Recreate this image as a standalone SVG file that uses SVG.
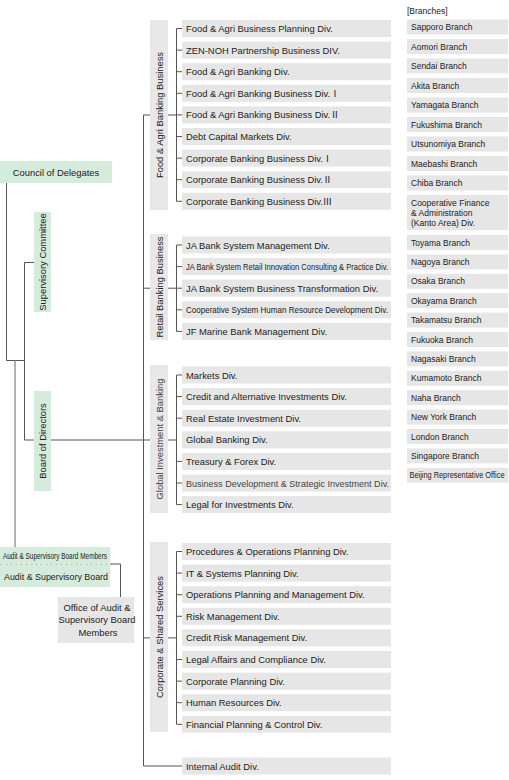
<svg xmlns="http://www.w3.org/2000/svg" width="509" height="780" viewBox="0 0 509 780">
<style>
.g{fill:#d5ecdc}
.d{fill:#e6e6e6}
.b{fill:#e8e8e8}
.t{font-family:"Liberation Sans","Noto Sans CJK JP",sans-serif;font-size:9.4px;fill:#222}
.s{font-size:8.5px}
.m{text-anchor:middle}
.ln{stroke:#555;stroke-width:1;fill:none}
.gl{stroke:#999;stroke-width:1.5;fill:none}
.dl{stroke:#555;stroke-width:1;fill:none;stroke-dasharray:3 2}
</style>
<rect width="509" height="780" fill="#fff"/>
<g id="connectors">
<path class="ln" d="M6.5,183 V360.5 H24.5 M24.5,262.5 H34 M24.5,262.5 V440 H150"/>
<path class="gl" d="M15,360.5 V547"/>
<path class="dl" d="M0,564 H110"/>
<path class="ln" d="M110,564 H120.5 V597"/>
<path class="ln" d="M150,115 H143.5 V766 H182 M143.5,288.2 H150 M143.5,637.9 H150"/>
<path class="ln" d="M168,115 H176.5 M182,28.5 H176.5 V201.3 H182 M176.5,50.1 H182 M176.5,71.7 H182 M176.5,93.3 H182 M176.5,114.9 H182 M176.5,136.5 H182 M176.5,158.1 H182 M176.5,179.7 H182"/>
<path class="ln" d="M168,288.2 H176.5 M182,245 H176.5 V331.4 H182 M176.5,266.6 H182 M176.5,288.2 H182 M176.5,309.8 H182"/>
<path class="ln" d="M168,440 H176.5 M182,375 H176.5 V504.6 H182 M176.5,396.6 H182 M176.5,418.2 H182 M176.5,461.4 H182 M176.5,483 H182"/>
<path class="ln" d="M168,637.9 H176.5 M182,551.5 H176.5 V724.3 H182 M176.5,573.1 H182 M176.5,594.7 H182 M176.5,616.3 H182 M176.5,659.5 H182 M176.5,681.1 H182 M176.5,702.7 H182"/>
</g>
<g id="council"><rect class="g" x="0" y="161" width="112" height="22"/><text class="t m" x="56" y="175.5">Council of Delegates</text></g>
<g id="supervisory-committee"><rect class="g" x="34" y="212" width="17" height="100"/><text class="t m" transform="translate(42.5,262) rotate(-90)" y="3.3">Supervisory Committee</text></g>
<g id="board-of-directors"><rect class="g" x="34" y="391" width="17" height="100"/><text class="t m" transform="translate(42.5,441) rotate(-90)" y="3.3">Board of Directors</text></g>
<g id="audit-members"><rect class="g" x="0" y="547" width="110" height="17"/><text class="t" x="3" y="559" font-size="7.6" textLength="104" lengthAdjust="spacingAndGlyphs">Audit &amp; Supervisory Board Members</text></g>
<g id="audit-board"><rect class="g" x="0" y="564.5" width="110" height="22.5"/><text class="t" x="4" y="579.5" font-size="9" textLength="104" lengthAdjust="spacingAndGlyphs">Audit &amp; Supervisory Board</text></g>
<g id="office-audit"><rect class="d" x="58" y="597" width="76" height="46"/>
<text class="t m" x="97" y="611" font-size="8.4">Office of Audit &amp;</text>
<text class="t m" x="97" y="623" font-size="8.4">Supervisory Board</text>
<text class="t m" x="98" y="635.5" font-size="8.4">Members</text></g>

<g id="grp-food"><rect class="b" x="150" y="20" width="18" height="190"/><text class="t m" transform="translate(159.5,115) rotate(-90)" y="3.3">Food &amp; Agri Banking Business</text></g>
<g id="grp-retail"><rect class="b" x="150" y="234" width="18" height="106"/><text class="t m" transform="translate(159.5,287) rotate(-90)" y="3.3">Retail Banking Business</text></g>
<g id="grp-global"><rect class="b" x="150" y="365" width="18" height="148"/><text class="t m" transform="translate(159.5,439) rotate(-90)" y="3.3" style="fill:#444">Global Investment &amp; Banking</text></g>
<g id="grp-corporate"><rect class="b" x="150" y="542" width="18" height="190"/><text class="t m" transform="translate(159.5,637) rotate(-90)" y="3.3">Corporate &amp; Shared Services</text></g>

<g id="food-divs">
<g id="d-food1"><rect class="d" x="182" y="20" width="209" height="17"/><text class="t" x="186" y="32">Food &amp; Agri Business Planning Div.</text></g>
<g id="d-food2"><rect class="d" x="182" y="41.6" width="209" height="17"/><text class="t" x="186" y="53.6">ZEN-NOH Partnership Business DIV.</text></g>
<g id="d-food3"><rect class="d" x="182" y="63.2" width="209" height="17"/><text class="t" x="186" y="75.2">Food &amp; Agri Banking Div.</text></g>
<g id="d-food4"><rect class="d" x="182" y="84.8" width="209" height="17"/><text class="t" x="186" y="96.8">Food &amp; Agri Banking Business Div.Ⅰ</text></g>
<g id="d-food5"><rect class="d" x="182" y="106.4" width="209" height="17"/><text class="t" x="186" y="118.4">Food &amp; Agri Banking Business Div.Ⅱ</text></g>
<g id="d-food6"><rect class="d" x="182" y="128" width="209" height="17"/><text class="t" x="186" y="140">Debt Capital Markets Div.</text></g>
<g id="d-food7"><rect class="d" x="182" y="149.6" width="209" height="17"/><text class="t" x="186" y="161.6">Corporate Banking Business Div.Ⅰ</text></g>
<g id="d-food8"><rect class="d" x="182" y="171.2" width="209" height="17"/><text class="t" x="186" y="183.2">Corporate Banking Business Div.Ⅱ</text></g>
<g id="d-food9"><rect class="d" x="182" y="192.8" width="209" height="17"/><text class="t" x="186" y="204.8">Corporate Banking Business Div.Ⅲ</text></g>
</g>
<g id="retail-divs">
<g id="d-ret1"><rect class="d" x="182" y="236.5" width="209" height="17"/><text class="t" x="186" y="248.5">JA Bank System Management Div.</text></g>
<g id="d-ret2"><rect class="d" x="182" y="258.1" width="209" height="17"/><text class="t" x="186" y="270" font-size="7.6" textLength="202" lengthAdjust="spacingAndGlyphs">JA Bank System Retail Innovation Consulting &amp; Practice Div.</text></g>
<g id="d-ret3"><rect class="d" x="182" y="279.7" width="209" height="17"/><text class="t" x="186" y="291.7">JA Bank System Business Transformation Div.</text></g>
<g id="d-ret4"><rect class="d" x="182" y="301.3" width="209" height="17"/><text class="t" x="186" y="313.2" font-size="8" textLength="202" lengthAdjust="spacingAndGlyphs">Cooperative System Human Resource Development Div.</text></g>
<g id="d-ret5"><rect class="d" x="182" y="322.9" width="209" height="17"/><text class="t" x="186" y="334.9">JF Marine Bank Management Div.</text></g>
</g>
<g id="global-divs">
<g id="d-gl1"><rect class="d" x="182" y="366.5" width="209" height="17"/><text class="t" x="186" y="378.5">Markets Div.</text></g>
<g id="d-gl2"><rect class="d" x="182" y="388.1" width="209" height="17"/><text class="t" x="186" y="400.1">Credit and Alternative Investments Div.</text></g>
<g id="d-gl3"><rect class="d" x="182" y="409.7" width="209" height="17"/><text class="t" x="186" y="421.7">Real Estate Investment Div.</text></g>
<g id="d-gl4"><rect class="d" x="182" y="431.3" width="209" height="17"/><text class="t" x="186" y="443.3">Global Banking Div.</text></g>
<g id="d-gl5"><rect class="d" x="182" y="452.9" width="209" height="17"/><text class="t" x="186" y="464.9">Treasury &amp; Forex Div.</text></g>
<g id="d-gl6"><rect class="d" x="182" y="474.5" width="209" height="17"/><text class="t" x="186" y="486.5" font-size="9" textLength="203" lengthAdjust="spacingAndGlyphs" style="fill:#444">Business Development &amp; Strategic Investment Div.</text></g>
<g id="d-gl7"><rect class="d" x="182" y="496.1" width="209" height="17"/><text class="t" x="186" y="508.1">Legal for Investments Div.</text></g>
</g>
<g id="corp-divs">
<g id="d-co1"><rect class="d" x="182" y="543" width="209" height="17"/><text class="t" x="186" y="555">Procedures &amp; Operations Planning Div.</text></g>
<g id="d-co2"><rect class="d" x="182" y="564.6" width="209" height="17"/><text class="t" x="186" y="576.6">IT &amp; Systems Planning Div.</text></g>
<g id="d-co3"><rect class="d" x="182" y="586.2" width="209" height="17"/><text class="t" x="186" y="598.2">Operations Planning and Management Div.</text></g>
<g id="d-co4"><rect class="d" x="182" y="607.8" width="209" height="17"/><text class="t" x="186" y="619.8">Risk Management Div.</text></g>
<g id="d-co5"><rect class="d" x="182" y="629.4" width="209" height="17"/><text class="t" x="186" y="641.4">Credit Risk Management Div.</text></g>
<g id="d-co6"><rect class="d" x="182" y="651" width="209" height="17"/><text class="t" x="186" y="663">Legal Affairs and Compliance Div.</text></g>
<g id="d-co7"><rect class="d" x="182" y="672.6" width="209" height="17"/><text class="t" x="186" y="684.6">Corporate Planning Div.</text></g>
<g id="d-co8"><rect class="d" x="182" y="694.2" width="209" height="17"/><text class="t" x="186" y="706.2">Human Resources Div.</text></g>
<g id="d-co9"><rect class="d" x="182" y="715.8" width="209" height="17"/><text class="t" x="186" y="727.8">Financial Planning &amp; Control Div.</text></g>
</g>
<g id="internal-audit"><rect class="d" x="182" y="757.5" width="209" height="17"/><text class="t" x="186" y="769.5">Internal Audit Div.</text></g>

<g id="branches">
<text class="t s" x="407" y="14">[Branches]</text>
<g id="br1"><rect class="d" x="407" y="19.5" width="101" height="15"/><text class="t s" x="411" y="30">Sapporo Branch</text></g>
<g id="br2"><rect class="d" x="407" y="39" width="101" height="15"/><text class="t s" x="411" y="49.5">Aomori Branch</text></g>
<g id="br3"><rect class="d" x="407" y="58.5" width="101" height="15"/><text class="t s" x="411" y="69">Sendai Branch</text></g>
<g id="br4"><rect class="d" x="407" y="78" width="101" height="15"/><text class="t s" x="411" y="88.5">Akita Branch</text></g>
<g id="br5"><rect class="d" x="407" y="97.5" width="101" height="15"/><text class="t s" x="411" y="108">Yamagata Branch</text></g>
<g id="br6"><rect class="d" x="407" y="117" width="101" height="15"/><text class="t s" x="411" y="127.5">Fukushima Branch</text></g>
<g id="br7"><rect class="d" x="407" y="136.5" width="101" height="15"/><text class="t s" x="411" y="147">Utsunomiya Branch</text></g>
<g id="br8"><rect class="d" x="407" y="156" width="101" height="15"/><text class="t s" x="411" y="166.5">Maebashi Branch</text></g>
<g id="br9"><rect class="d" x="407" y="175.5" width="101" height="15"/><text class="t s" x="411" y="186">Chiba Branch</text></g>
<g id="br10"><rect class="d" x="407" y="195" width="101" height="35"/>
<text class="t s" x="411" y="206">Cooperative Finance</text>
<text class="t s" x="411" y="216">&amp; Administration</text>
<text class="t s" x="411" y="226">(Kanto Area) Div.</text></g>
<g id="br11"><rect class="d" x="407" y="235" width="101" height="15"/><text class="t s" x="411" y="245.5">Toyama Branch</text></g>
<g id="br12"><rect class="d" x="407" y="254.4" width="101" height="15"/><text class="t s" x="411" y="264.9">Nagoya Branch</text></g>
<g id="br13"><rect class="d" x="407" y="273.8" width="101" height="15"/><text class="t s" x="411" y="284.3">Osaka Branch</text></g>
<g id="br14"><rect class="d" x="407" y="293.2" width="101" height="15"/><text class="t s" x="411" y="303.7">Okayama Branch</text></g>
<g id="br15"><rect class="d" x="407" y="312.6" width="101" height="15"/><text class="t s" x="411" y="323.1">Takamatsu Branch</text></g>
<g id="br16"><rect class="d" x="407" y="332" width="101" height="15"/><text class="t s" x="411" y="342.5">Fukuoka Branch</text></g>
<g id="br17"><rect class="d" x="407" y="351.4" width="101" height="15"/><text class="t s" x="411" y="361.9">Nagasaki Branch</text></g>
<g id="br18"><rect class="d" x="407" y="370.8" width="101" height="15"/><text class="t s" x="411" y="381.3">Kumamoto Branch</text></g>
<g id="br19"><rect class="d" x="407" y="390.2" width="101" height="15"/><text class="t s" x="411" y="400.7">Naha Branch</text></g>
<g id="br20"><rect class="d" x="407" y="409.6" width="101" height="15"/><text class="t s" x="411" y="420.1">New York Branch</text></g>
<g id="br21"><rect class="d" x="407" y="429" width="101" height="15"/><text class="t s" x="411" y="439.5">London Branch</text></g>
<g id="br22"><rect class="d" x="407" y="448.4" width="101" height="15"/><text class="t s" x="411" y="458.9">Singapore Branch</text></g>
<g id="br23"><rect class="d" x="407" y="467.8" width="101" height="15"/><text class="t s" x="409.5" y="478.3" font-size="7.2" textLength="95" lengthAdjust="spacingAndGlyphs">Beijing Representative Office</text></g>
</g>
</svg>
